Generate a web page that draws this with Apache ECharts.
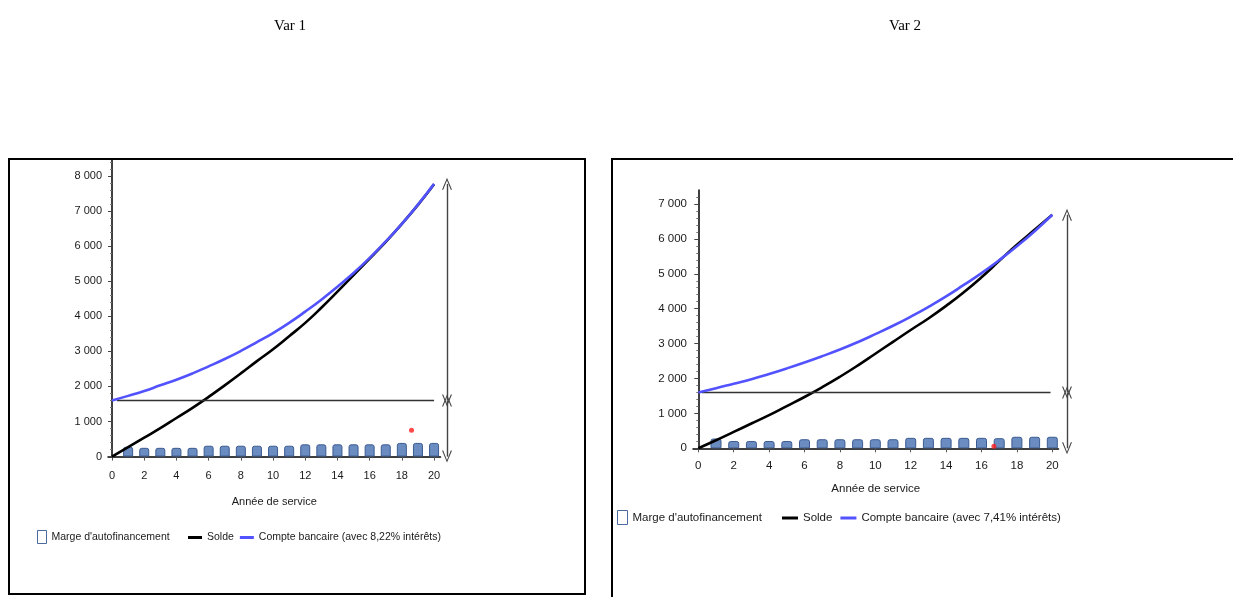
<!DOCTYPE html>
<html>
<head>
<meta charset="utf-8">
<script src="https://cdn.jsdelivr.net/npm/echarts@6/dist/echarts.min.js"></script>
<style>
html,body{margin:0;padding:0;background:#fff;}
#c{width:1233px;height:597px;}
</style>
</head>
<body>
<div id="c"></div>
<script>
// ---------- data ----------
const years = [0,1,2,3,4,5,6,7,8,9,10,11,12,13,14,15,16,17,18,19,20];
const barYears = [1,2,3,4,5,6,7,8,9,10,11,12,13,14,15,16,17,18,19,20];
const xTickLabels = [0,2,4,6,8,10,12,14,16,18,20];
const yTicks1 = [0,1000,2000,3000,4000,5000,6000,7000,8000];
const yTicks2 = [0,1000,2000,3000,4000,5000,6000,7000];

const marge1 = [280,250,250,250,250,310,310,310,310,310,310,350,350,350,350,350,350,390,390,390];
const solde1 = [0,270,540,810,1100,1390,1700,2030,2370,2720,3060,3430,3810,4240,4700,5170,5640,6120,6630,7170,7760];
const compte1 = [1600,1730,1870,2030,2190,2370,2570,2780,3010,3260,3520,3810,4130,4470,4840,5230,5660,6130,6630,7180,7770];
const seuil1 = [[0.3,1600],[20,1600]];
const point1 = [[18.6,750]];
const arrow1 = [0,1600,7770];

const marge2 = [280,210,210,210,210,260,260,260,260,260,260,300,300,300,300,300,290,330,330,330];
const solde2 = [0,230,470,710,950,1210,1470,1750,2050,2370,2710,3050,3390,3720,4080,4470,4900,5370,5830,6260,6690];
const compte2 = [1600,1720,1850,1980,2130,2290,2460,2640,2830,3040,3270,3510,3770,4050,4350,4680,5020,5390,5790,6220,6690];
const seuil2 = [[0.2,1600],[19.9,1600]];
const point2 = [[16.7,60]];
const arrow2 = [0,1600,6690];

const titles = ['Var 1','Var 2'];
const nameMarge = "Marge d'autofinancement";
const nameSolde = 'Solde';
const nameCompte1 = 'Compte bancaire (avec 8,22% intérêts)';
const nameCompte2 = 'Compte bancaire (avec 7,41% intérêts)';
const xName = 'Année de service';

// ---------- helpers ----------
const FONT = "'Liberation Sans Narrow','Liberation Sans',Arial,sans-serif";
const fmt = v => String(v).replace(/\B(?=(\d{3})+(?!\d))/g, ' ');
const pair = (xs, ys) => ys.map((y, i) => [xs[i], y]);
const chevron = 'path://M0,10 L5,0 L10,10 L8.8,10 L5,2.2 L1.2,10 Z';

const barColor = '#6b8cc0';
const barBorder = '#3b5b90';
const blue = '#5252ff';

function xAxisCfg(grid, min, max, labelMargin, nameGap, fs) {
  return {
    type: 'value', gridIndex: grid, min: min, max: max,
    splitLine: {show: false},
    axisLine: {show: true, onZero: false, lineStyle: {color: '#000', width: 1.5}},
    axisTick: {show: true, length: 4, lineStyle: {color: '#555'}, customValues: xTickLabels},
    axisLabel: {color: '#1a1a1a', fontFamily: FONT, fontSize: fs, margin: labelMargin, customValues: xTickLabels},
    name: xName, nameLocation: 'middle', nameGap: nameGap,
    nameTextStyle: {color: '#1a1a1a', fontFamily: FONT, fontSize: fs}
  };
}
function yAxisCfg(grid, max, ticks, fs) {
  return {
    type: 'value', gridIndex: grid, min: 0, max: max, interval: 1000,
    splitLine: {show: false},
    axisLine: {show: true, lineStyle: {color: '#000', width: 1.5}},
    axisTick: {show: true, length: 4, lineStyle: {color: '#444'}, customValues: ticks},
    minorTick: {show: true, splitNumber: 5, length: 2, lineStyle: {color: '#777'}},
    axisLabel: {color: '#1a1a1a', fontFamily: FONT, fontSize: fs, margin: 6, customValues: ticks, formatter: fmt}
  };
}
function hiddenAxis(grid, min, max) {
  return {type: 'value', gridIndex: grid, min: min, max: max, show: false};
}

function chartSeries(gi, arrowGi, marge, solde, compte, nameCompte, seuil, pt, arrow, barW) {
  return [
    {
      type: 'bar', name: nameMarge, xAxisIndex: gi, yAxisIndex: gi,
      data: pair(barYears, marge), barWidth: barW,
      itemStyle: {color: barColor, borderColor: barBorder, borderWidth: 1, borderRadius: [2,2,0,0]},
      z: 2
    },
    {
      type: 'line', name: nameSolde, xAxisIndex: gi, yAxisIndex: gi,
      data: pair(years, solde), showSymbol: false, symbol: 'none', smooth: true,
      lineStyle: {color: '#000', width: 2.6}, itemStyle: {color: '#000'}, z: 3
    },
    {
      type: 'line', name: nameCompte, xAxisIndex: gi, yAxisIndex: gi,
      data: pair(years, compte), showSymbol: false, symbol: 'none', smooth: true,
      lineStyle: {color: blue, width: 2.6}, itemStyle: {color: blue}, z: 4
    },
    {
      type: 'line', name: 'seuil', xAxisIndex: gi, yAxisIndex: gi,
      data: seuil, showSymbol: false, symbol: 'none',
      lineStyle: {color: '#333', width: 1.5}, z: 3, silent: true
    },
    {
      type: 'scatter', name: 'point', xAxisIndex: gi, yAxisIndex: gi,
      data: pt, symbolSize: 5, itemStyle: {color: '#ff1a1a'}, z: 5, silent: true
    },
    {
      type: 'line', name: 'fleches', xAxisIndex: arrowGi, yAxisIndex: arrowGi,
      data: [], silent: true,
      markLine: {
        silent: true, animation: false,
        symbol: [chevron, chevron], symbolSize: [10, 12],
        label: {show: false},
        lineStyle: {color: '#444', width: 1.4, type: 'solid'},
        data: [
          [{coord: [1, arrow[1]]}, {coord: [1, arrow[2]]}],
          [{coord: [1, arrow[0]]}, {coord: [1, arrow[1]]}]
        ]
      }
    }
  ];
}

// layout (pixels)
const g1 = {left: 108, top: 160, width: 332.5, height: 296.6};
const g2 = {left: 693, top: 190, width: 365.5, height: 258.3};

const option = {
  animation: false,
  backgroundColor: '#fff',
  title: [
    {text: titles[0], left: 285, top: 14, textAlign: 'center',
     textStyle: {fontFamily: "'Liberation Serif','Times New Roman',serif", fontWeight: 'normal', fontSize: 15, color: '#000'}},
    {text: titles[1], left: 900, top: 14, textAlign: 'center',
     textStyle: {fontFamily: "'Liberation Serif','Times New Roman',serif", fontWeight: 'normal', fontSize: 15, color: '#000'}}
  ],
  grid: [
    g1,
    g2,
    {left: 440, top: g1.top, width: 14, height: g1.height},
    {left: 1060, top: g2.top, width: 14, height: g2.height}
  ],
  xAxis: [
    xAxisCfg(0, -0.25, 20.4, 14, 40, 11),
    xAxisCfg(1, -0.3, 20.35, 12, 35, 11.5),
    hiddenAxis(2, 0, 2),
    hiddenAxis(3, 0, 2)
  ],
  yAxis: [
    yAxisCfg(0, 8450, yTicks1, 11),
    yAxisCfg(1, 7400, yTicks2, 11.5),
    hiddenAxis(2, 0, 8450),
    hiddenAxis(3, 0, 7400)
  ],
  legend: [
    {left: 37, top: 530, padding: 0, itemWidth: 9, itemHeight: 13, selectedMode: false,
     textStyle: {fontFamily: FONT, fontSize: 10.5, color: '#1a1a1a'},
     data: [{name: nameMarge, icon: 'rect', itemStyle: {color: '#fff', borderColor: '#4a6aa0', borderWidth: 1}}]},
    {left: 188, top: 532, padding: 0, itemWidth: 14, itemHeight: 3, itemGap: 6, selectedMode: false,
     textStyle: {fontFamily: FONT, fontSize: 10.5, color: '#1a1a1a'},
     data: [{name: nameSolde, icon: 'rect'}, {name: nameCompte1, icon: 'rect'}]},
    {left: 617, top: 510, padding: 0, itemWidth: 10, itemHeight: 14, selectedMode: false,
     textStyle: {fontFamily: FONT, fontSize: 11.5, color: '#1a1a1a'},
     data: [{name: nameMarge, icon: 'rect', itemStyle: {color: '#fff', borderColor: '#4a6aa0', borderWidth: 1}}]},
    {left: 782, top: 512, padding: 0, itemWidth: 16, itemHeight: 3, itemGap: 8, selectedMode: false,
     textStyle: {fontFamily: FONT, fontSize: 11.5, color: '#1a1a1a'},
     data: [{name: nameSolde, icon: 'rect'}, {name: nameCompte2, icon: 'rect'}]}
  ],
  graphic: [
    {type: 'rect', shape: {x: 9, y: 159, width: 576, height: 435},
     style: {fill: 'none', stroke: '#000', lineWidth: 2}, silent: true, z: 0},
    {type: 'rect', shape: {x: 612, y: 159, width: 700, height: 500},
     style: {fill: 'none', stroke: '#000', lineWidth: 2}, silent: true, z: 0}
  ],
  series: [].concat(
    chartSeries(0, 2, marge1, solde1, compte1, nameCompte1, seuil1, point1, arrow1, 10),
    chartSeries(1, 3, marge2, solde2, compte2, nameCompte2, seuil2, point2, arrow2, 11)
  )
};

const chart = echarts.init(document.getElementById('c'), null, {renderer: 'canvas'});
chart.setOption(option);
</script>
</body>
</html>
